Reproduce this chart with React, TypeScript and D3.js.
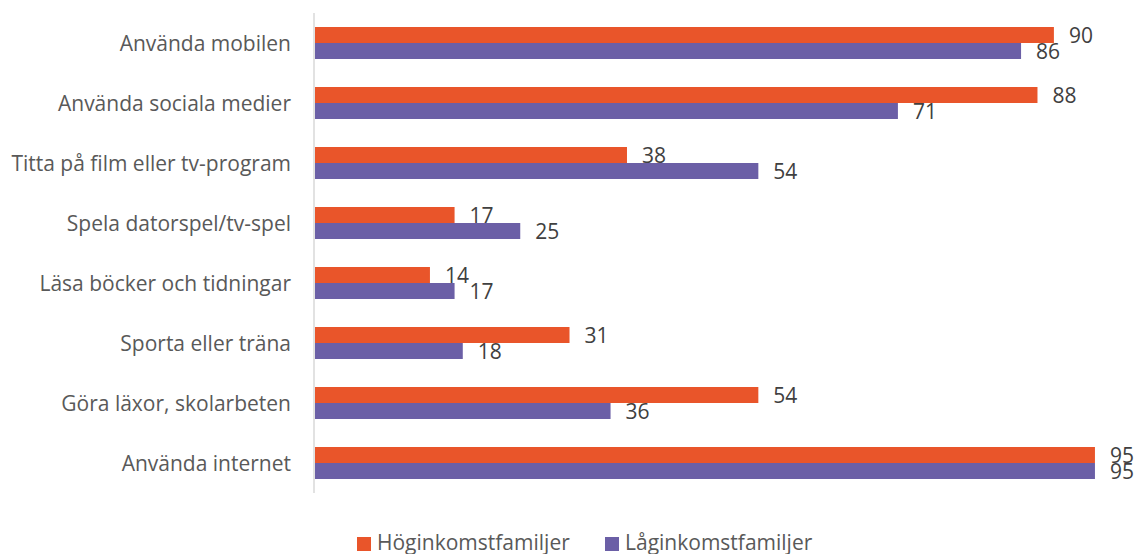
import * as d3 from "d3";

const categories = [
  "Använda mobilen",
  "Använda sociala medier",
  "Titta på film eller tv-program",
  "Spela datorspel/tv-spel",
  "Läsa böcker och tidningar",
  "Sporta eller träna",
  "Göra läxor, skolarbeten",
  "Använda internet",
];
const highIncome = [90, 88, 38, 17, 14, 31, 54, 95];
const lowIncome = [86, 71, 54, 25, 17, 18, 36, 95];
const seriesNames = ["Höginkomstfamiljer", "Låginkomstfamiljer"];
const seriesColors = ["#E9552A", "#6B5FA6"];

export default function App() {
  const width = 1138;
  const height = 554;
  const font = "'Open Sans', sans-serif";
  const fs = 21;

  const x = d3.scaleLinear().domain([0, 100]).range([315, 1136]);
  const y = d3
    .scaleBand<string>()
    .domain(categories)
    .range([13, 493])
    .paddingInner(0.4667)
    .paddingOuter(0.2333);
  const inner = d3
    .scaleBand<number>()
    .domain([0, 1])
    .range([0, y.bandwidth()]);

  const series = [highIncome, lowIncome];

  return (
    <svg
      width={width}
      height={height}
      style={{ position: "absolute", left: 0, top: 0, background: "#fff" }}
      fontFamily={font}
    >
      {/* category axis line */}
      <line x1={314} x2={314} y1={13} y2={493} stroke="#d9d9d9" strokeWidth={1.5} />

      {categories.map((c) => (
        <text
          key={c}
          x={291}
          y={(y(c) ?? 0) + y.bandwidth() / 2}
          textAnchor="end"
          dominantBaseline="central"
          fontSize={fs}
          fill="#595959"
        >
          {c}
        </text>
      ))}

      {series.map((vals, si) =>
        vals.map((v, i) => {
          const by = (y(categories[i]) ?? 0) + (inner(si) ?? 0);
          const bh = inner.bandwidth();
          return (
            <g key={`${si}-${i}`}>
              <rect
                x={x(0)}
                y={by}
                width={x(v) - x(0)}
                height={bh}
                fill={seriesColors[si]}
              />
              <text
                x={x(v) + 15}
                y={by + bh / 2}
                dominantBaseline="central"
                fontSize={fs}
                fill="#404040"
              >
                {v}
              </text>
            </g>
          );
        })
      )}

      {/* legend */}
      {seriesNames.map((n, i) => {
        const lx = i === 0 ? 357 : 605;
        return (
          <g key={n}>
            <rect x={lx} y={537} width={14} height={14} fill={seriesColors[i]} />
            <text x={lx + 20} y={550} fontSize={fs} fill="#595959">
              {n}
            </text>
          </g>
        );
      })}
    </svg>
  );
}
